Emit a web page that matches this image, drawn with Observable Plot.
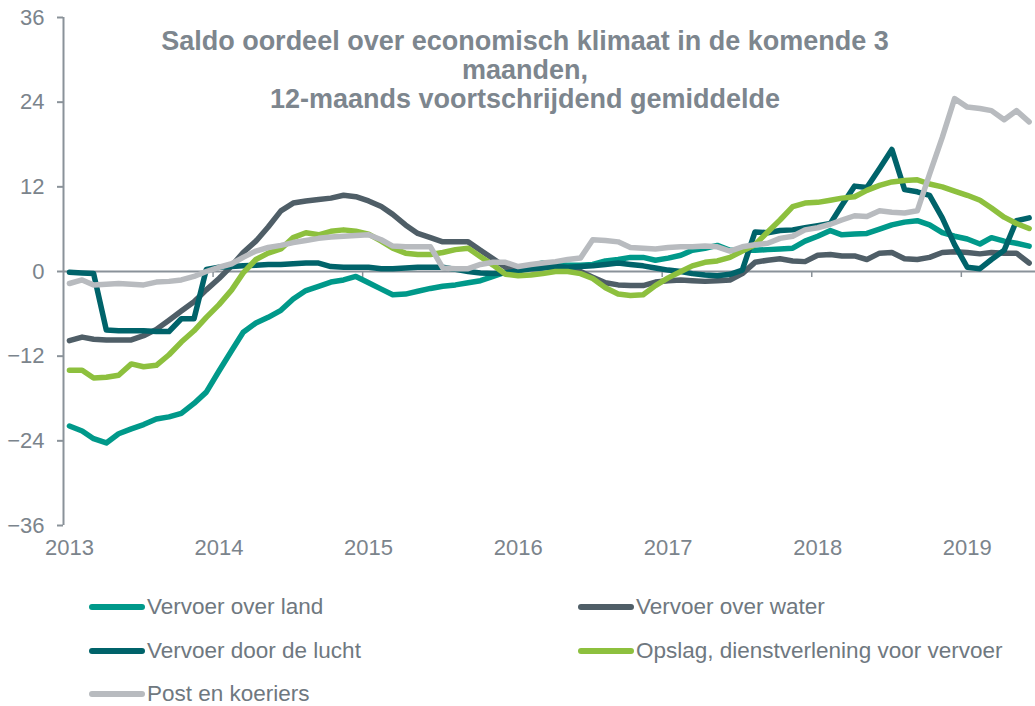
<!DOCTYPE html>
<html>
<head>
<meta charset="utf-8">
<script src="https://cdn.jsdelivr.net/npm/d3@7"></script>
<script src="https://cdn.jsdelivr.net/npm/@observablehq/plot@0.6"></script>
<style>
  body { margin: 0; background: #fff; font-family: "Liberation Sans", Arial, sans-serif; overflow: hidden; }
  #wrap { position: relative; width: 1035px; height: 706px; }
  #chart { position: absolute; left: 0; top: 0; }
  #title { position: absolute; left: 0; top: 27px; width: 1050px; text-align: center; font-weight: bold;
           font-size: 27px; line-height: 29px; color: #7d868e; }
  #legend { position: absolute; left: 88px; top: 584px; display: grid;
            grid-template-columns: 489px 458px; grid-template-rows: 45px 43px 44px; }
  .item { display: flex; align-items: center; font-size: 22.5px; color: #6f7880; white-space: nowrap; }
  .item svg { margin-right: 1px; }
</style>
</head>
<body>
<div id="wrap">
  <div id="chart"></div>
  <div id="title">Saldo oordeel over economisch klimaat in de komende 3<br>maanden,<br>12-maands voortschrijdend gemiddelde</div>
  <div id="legend"></div>
</div>
<script>
// Series (monthly, Jan 2013 – Jun 2019), 12-month moving average
const seriesNames = ["Vervoer over land", "Vervoer over water", "Vervoer door de lucht", "Opslag, dienstverlening voor vervoer", "Post en koeriers"];
const seriesColors = ["#00998a", "#4f5e67", "#00636a", "#8dc03e", "#b8bbbf"];
const yearLabels = [2013, 2014, 2015, 2016, 2017, 2018, 2019];
const yTicks = [-36, -24, -12, 0, 12, 24, 36];

const land = [-21.9,-22.6,-23.7,-24.3,-23.0,-22.3,-21.7,-20.9,-20.6,-20.1,
  -18.7,-17.1,-14.1,-11.2,-8.6,-7.3,-6.5,-5.5,-3.9,-2.7,
  -2.1,-1.5,-1.2,-0.7,-1.6,-2.5,-3.3,-3.2,-2.8,-2.4,
  -2.1,-1.9,-1.6,-1.3,-0.7,-0.1,0.5,0.8,1.2,1.0,
  0.9,0.9,1.0,1.5,1.7,2.0,2.0,1.6,1.9,2.3,
  3.0,3.3,3.7,3.0,3.0,3.0,3.1,3.2,3.3,4.3,
  5.0,5.8,5.2,5.3,5.4,6.0,6.6,7.0,7.2,6.6,
  5.5,5.0,4.6,3.9,4.8,4.3,4.0,3.6];
const water = [-9.8,-9.3,-9.6,-9.7,-9.7,-9.7,-9.1,-8.2,-6.9,-5.6,
  -4.3,-2.6,-1.0,0.8,2.7,4.3,6.3,8.6,9.7,10.0,
  10.2,10.4,10.8,10.6,10.0,9.2,8.1,6.6,5.4,4.8,
  4.2,4.2,4.2,3.0,1.8,0.6,0.4,0.5,0.6,0.6,
  0.5,0.0,-0.8,-1.6,-1.9,-2.0,-2.0,-1.5,-1.3,-1.2,
  -1.3,-1.4,-1.3,-1.2,-0.3,1.3,1.6,1.8,1.5,1.4,
  2.3,2.4,2.2,2.2,1.7,2.6,2.7,1.8,1.7,2.0,
  2.7,2.8,2.7,2.5,2.7,2.6,2.6,1.2];
const air = [-0.1,-0.2,-0.3,-8.3,-8.4,-8.4,-8.4,-8.5,-8.5,-6.7,
  -6.7,0.3,0.6,0.7,0.8,0.9,1.0,1.0,1.1,1.2,
  1.2,0.7,0.6,0.6,0.6,0.4,0.4,0.5,0.6,0.6,
  0.6,0.3,0.0,-0.2,-0.3,-0.2,0.1,0.4,0.5,0.7,
  0.6,0.7,0.8,1.0,1.2,1.0,0.8,0.5,0.2,0.0,
  -0.3,-0.5,-0.6,-0.4,0.2,5.6,5.5,5.8,5.9,6.2,
  6.5,6.8,9.4,12.1,11.9,14.6,17.3,11.6,11.3,10.8,
  7.6,3.8,0.6,0.4,1.7,3.0,7.2,7.6];
const storage = [-14.0,-14.0,-15.1,-15.0,-14.7,-13.1,-13.5,-13.3,-11.8,-10.0,
  -8.4,-6.5,-4.7,-2.6,-0.2,1.7,2.6,3.2,4.8,5.5,
  5.2,5.7,5.9,5.7,5.3,4.3,3.3,2.6,2.4,2.4,
  2.7,3.1,3.3,2.1,0.9,-0.4,-0.6,-0.5,-0.3,0.0,
  0.0,-0.3,-1.0,-2.3,-3.2,-3.4,-3.3,-2.0,-0.9,0.0,
  0.8,1.3,1.5,2.0,2.9,3.8,5.6,7.3,9.2,9.7,
  9.8,10.1,10.4,10.6,11.5,12.2,12.7,12.9,13.0,12.4,
  12.0,11.4,10.8,10.1,9.0,7.7,6.8,6.1];
const post = [-1.7,-1.2,-1.9,-1.8,-1.7,-1.8,-1.9,-1.5,-1.4,-1.2,
  -0.7,0.0,0.6,1.1,2.0,2.9,3.4,3.7,4.1,4.4,
  4.7,4.9,5.0,5.1,5.2,4.5,3.6,3.5,3.5,3.5,
  0.5,0.4,0.4,1.0,1.3,1.3,0.7,1.0,1.2,1.4,
  1.7,1.9,4.5,4.4,4.2,3.4,3.3,3.2,3.4,3.5,
  3.5,3.6,3.5,2.9,3.5,3.8,4.0,4.7,5.0,5.9,
  6.2,6.7,7.3,7.9,7.8,8.6,8.4,8.3,8.6,13.8,
  19.0,24.5,23.3,23.1,22.8,21.5,22.8,21.2];

const allSeries = [land, water, air, storage, post];
// each monthly value is plotted in the middle of its month
const monthDate = i => new Date(Date.UTC(2013, i, 15, 12));
const data = allSeries.flatMap((vals, s) =>
  vals.map((v, i) => ({series: seriesNames[s], date: monthDate(i), value: v})));

const x0 = new Date(Date.UTC(2013, 0, 1));
const x1 = new Date(Date.UTC(2019, 6, 1));
const yearStarts = yearLabels.slice(1).map(y => new Date(Date.UTC(y, 0, 1)));
const labelDates = yearLabels.map(y => new Date(Date.UTC(y, 0, 15, 12)));

const axisColor = "#8a9299";
const textColor = "#7b848c";

const chart = Plot.plot({
  width: 1035,
  height: 572,
  marginLeft: 63,
  marginRight: 0,
  marginTop: 17,
  marginBottom: 47,
  style: {fontFamily: "'Liberation Sans', Arial, sans-serif", background: "transparent"},
  x: {type: "utc", domain: [x0, x1], axis: null},
  y: {domain: [-36, 36], axis: null},
  color: {domain: seriesNames, range: seriesColors},
  marks: [
    Plot.ruleX([x0], {y1: -36, y2: 36, stroke: axisColor, strokeWidth: 2}),
    Plot.axisY(yTicks, {tickSize: 6, tickPadding: 13, fontSize: 22, color: axisColor, fill: textColor, strokeWidth: 2, label: null}),
    Plot.ruleY([0], {stroke: axisColor, strokeWidth: 2}),
    Plot.ruleX(yearStarts, {y1: 0, y2: -0.85, stroke: axisColor, strokeWidth: 1.5}),
    Plot.axisX(labelDates, {tickSize: 0, tickPadding: 14, fontSize: 22, fill: textColor, tickFormat: d3.utcFormat("%Y"), label: null}),
    Plot.lineY(data, {x: "date", y: "value", z: "series", stroke: "series", strokeWidth: 5.5,
      strokeLinejoin: "round", strokeLinecap: "round"})
  ]
});
document.getElementById("chart").appendChild(chart);

const legend = document.getElementById("legend");
seriesNames.forEach((name, i) => {
  const item = document.createElement("div");
  item.className = "item";
  item.innerHTML = `<svg width="58" height="10"><line x1="4" y1="5" x2="54" y2="5" stroke="${seriesColors[i]}" stroke-width="6" stroke-linecap="round"/></svg><span>${name}</span>`;
  legend.appendChild(item);
});
</script>
</body>
</html>
